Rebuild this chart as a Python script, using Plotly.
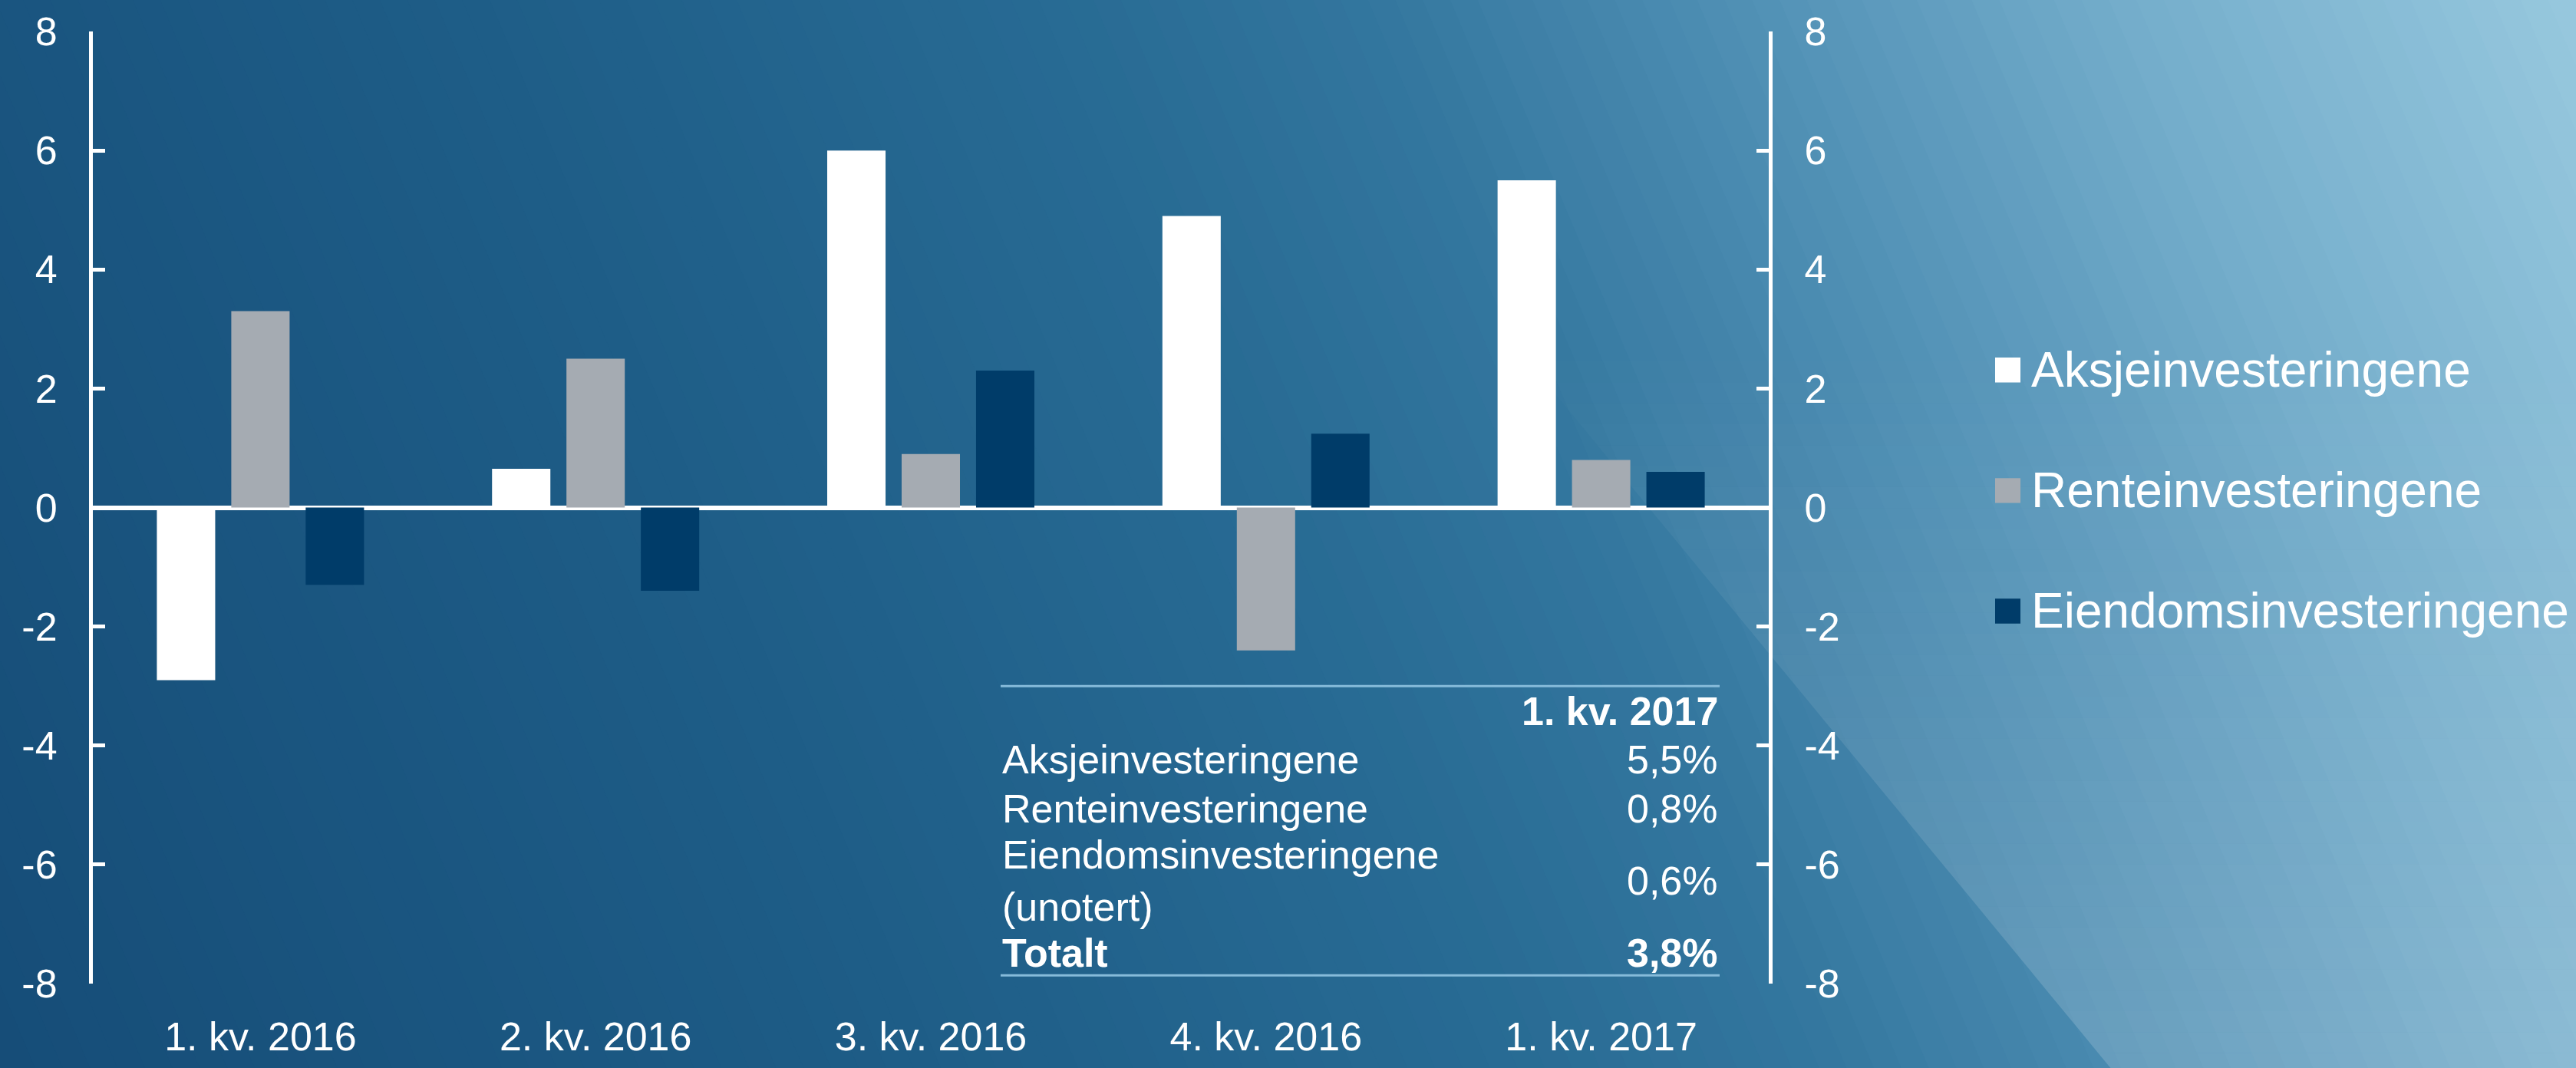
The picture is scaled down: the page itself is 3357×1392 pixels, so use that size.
import plotly.graph_objects as go

# ---------------- data ----------------
categories = ["1. kv. 2016", "2. kv. 2016", "3. kv. 2016", "4. kv. 2016", "1. kv. 2017"]
series_names = ["Aksjeinvesteringene", "Renteinvesteringene", "Eiendomsinvesteringene"]
aksje = [-2.9, 0.65, 6.0, 4.9, 5.5]
rente = [3.3, 2.5, 0.9, -2.4, 0.8]
eiendom = [-1.3, -1.4, 2.3, 1.24, 0.6]
series_colors = ["#ffffff", "#a5abb2", "#003c69"]

y_tickvals = [-8, -6, -4, -2, 0, 2, 4, 6, 8]
y_ticktext = ["-8", "-6", "-4", "-2", "0", "2", "4", "6", "8"]

table_header = "1. kv. 2017"
table_labels = ["Aksjeinvesteringene", "Renteinvesteringene", "Eiendomsinvesteringene<br>(unotert)"]
table_values = ["5,5%", "0,8%", "0,6%"]
total_label = "Totalt"
total_value = "3,8%"

# ---------------- geometry ----------------
W, H = 3357, 1392
L, R, T, B = 121, 1052, 40, 88
PW, PH = W - L - R, H - T - B
FONT = "Liberation Sans, Arial, Helvetica, sans-serif"


def px(x):
    return (x - L) / PW


def py(y):
    return (H - B - y) / PH


def path(points):
    return "M " + " L ".join(f"{px(x):.5f},{py(y):.5f}" for x, y in points) + " Z"


# ---------------- background: diagonal gradient built from thin strips ----------------
grad_stops = [(0.0, (0x16, 0x4d, 0x78)), (0.3, (0x1e, 0x5d, 0x87)), (0.5, (0x28, 0x6b, 0x94)),
              (0.6, (0x33, 0x76, 0x9e)), (0.72, (0x4f, 0x8f, 0xb4)), (0.85, (0x74, 0xad, 0xcb)),
              (1.0, (0x97, 0xc8, 0xde))]


def grad_color(t):
    for (t0, c0), (t1, c1) in zip(grad_stops[:-1], grad_stops[1:]):
        if t <= t1:
            f = (t - t0) / (t1 - t0)
            return "rgb(%d,%d,%d)" % tuple(round(a + (b - a) * f) for a, b in zip(c0, c1))
    return "rgb(%d,%d,%d)" % grad_stops[-1][1]


bg_shapes = []
gx, gy = W, -H            # gradient vector from bottom-left corner to top-right corner
norm = (gx * gx + gy * gy) ** 0.5
ux, uy = -gy / norm, gx / norm
BIG = 4000
N = 110
for i in range(N):
    t0 = i / N
    t1 = min(1.0, (i + 1) / N + 0.004)
    p0 = (t0 * gx, H + t0 * gy)
    p1 = (t1 * gx, H + t1 * gy)
    pts = [(p0[0] + BIG * ux, p0[1] + BIG * uy), (p0[0] - BIG * ux, p0[1] - BIG * uy),
           (p1[0] - BIG * ux, p1[1] - BIG * uy), (p1[0] + BIG * ux, p1[1] + BIG * uy)]
    if i == 0:
        pts = [(p[0] - 300 * gx / norm, p[1] - 300 * gy / norm) if k < 2 else p for k, p in enumerate(pts)]
    if i == N - 1:
        pts = [(p[0] + 300 * gx / norm, p[1] + 300 * gy / norm) if k >= 2 else p for k, p in enumerate(pts)]
    bg_shapes.append(dict(type="path", xref="paper", yref="paper", path=path(pts),
                          fillcolor=grad_color((i + 0.5) / N), line=dict(width=0), layer="below"))


def edge_x(y):   # edge of the lighter facet, from (1605,0) to (2731,1392)
    return 1605 + (2731 - 1605) * y / H


M = 36
y_start = 450
y_end = H + 60
for j in range(M):
    ya = y_start + (y_end - y_start) * j / M
    yb = y_start + (y_end - y_start) * (j + 1) / M
    a = min(0.17, 0.17 * ((ya + yb) / 2 - y_start) / (H - y_start))
    pts = [(edge_x(ya), ya), (W + 60, ya), (W + 60, yb), (edge_x(yb), yb)]
    bg_shapes.append(dict(type="path", xref="paper", yref="paper", path=path(pts),
                          fillcolor=f"rgba(255,255,255,{a:.4f})", line=dict(width=0), layer="below"))

# ---------------- figure ----------------
fig = go.Figure()
for name, vals, col in zip(series_names, [aksje, rente, eiendom], series_colors):
    fig.add_trace(go.Bar(x=categories, y=vals, name=name, marker=dict(color=col, line=dict(width=0)),
                         showlegend=False))
# invisible helper so that the right-hand axis is drawn
fig.add_trace(go.Scatter(x=categories, y=[None] * len(categories), yaxis="y2", mode="lines",
                         showlegend=False, hoverinfo="skip"))

axis_common = dict(
    range=[-8, 8], tickmode="array", tickvals=y_tickvals, ticktext=y_ticktext,
    ticks="inside", ticklen=16, tickwidth=5, tickcolor="white",
    showline=True, linewidth=5, linecolor="white", showgrid=False,
    tickfont=dict(family=FONT, size=52, color="white"),
    ticklabelstandoff=31, fixedrange=True, layer="above traces",
)

fig.update_layout(
    width=W, height=H, autosize=False,
    margin=dict(l=L, r=R, t=T, b=B, pad=0),
    paper_bgcolor="#2a6c95", plot_bgcolor="rgba(0,0,0,0)",
    barmode="group", bargap=0.334, bargroupgap=0.216,
    showlegend=False,
    font=dict(family=FONT, color="white"),
    xaxis=dict(type="category", showline=False, ticks="", showgrid=False, zeroline=False,
               tickfont=dict(family=FONT, size=52, color="white"), ticklabelstandoff=34,
               fixedrange=True),
    yaxis=dict(**axis_common, zeroline=True, zerolinecolor="white", zerolinewidth=6, side="left"),
    yaxis2=dict(**axis_common, zeroline=False, side="right", overlaying="y"),
)

shapes = list(bg_shapes)
annotations = []

# table lines
for yl in [909, 1293]:
    shapes.append(dict(type="line", xref="paper", yref="paper", x0=px(1304), x1=px(2241),
                       y0=py(yl), y1=py(yl), line=dict(color="#86bbda", width=3)))

tf = dict(family=FONT, size=52, color="white")
annotations.append(dict(text="<b>" + table_header + "</b>", x=px(2241), y=py(942), xref="paper", yref="paper",
                        xanchor="right", yanchor="middle", showarrow=False, font=tf))
row_y = [1007, 1072, 1168]
for lab, val, yy in zip(table_labels, table_values, row_y):
    annotations.append(dict(text=lab, x=px(1304), y=py(yy), xref="paper", yref="paper",
                            xanchor="left", yanchor="middle", showarrow=False, font=tf, align="left"))
    annotations.append(dict(text=val, x=px(2241), y=py(yy), xref="paper", yref="paper",
                            xanchor="right", yanchor="middle", showarrow=False, font=tf))
annotations.append(dict(text="<b>" + total_label + "</b>", x=px(1304), y=py(1263), xref="paper", yref="paper",
                        xanchor="left", yanchor="middle", showarrow=False, font=tf))
annotations.append(dict(text="<b>" + total_value + "</b>", x=px(2241), y=py(1263), xref="paper", yref="paper",
                        xanchor="right", yanchor="middle", showarrow=False, font=tf))

# legend (manual)
leg_y = [489.5, 649.5, 809.5]
for name, col, yy in zip(series_names, series_colors, leg_y):
    shapes.append(dict(type="rect", xref="paper", yref="paper", x0=px(2600), x1=px(2633),
                       y0=py(yy + 16.5), y1=py(yy - 16.5), fillcolor=col, line=dict(width=0)))
    annotations.append(dict(text=name, x=px(2645), y=py(yy), xref="paper", yref="paper",
                            xanchor="left", yanchor="middle", showarrow=False,
                            font=dict(family=FONT, size=64, color="white")))

fig.update_layout(shapes=shapes, annotations=annotations)

page_js = (
    "var h=document.documentElement,b=document.body,g=document.getElementById('{plot_id}');"
    "h.style.margin='0';h.style.padding='0';h.style.overflow='hidden';h.style.height='1392px';"
    "b.style.margin='0';b.style.padding='0';b.style.overflow='hidden';b.style.height='1392px';"
    "b.style.lineHeight='0';b.style.background='#2a6c95';"
    "if(g&&g.parentNode){g.parentNode.style.height='1392px';g.parentNode.style.overflow='hidden';}"
)
fig.write_html("out.html", config={"displayModeBar": False, "staticPlot": True}, post_script=page_js)
